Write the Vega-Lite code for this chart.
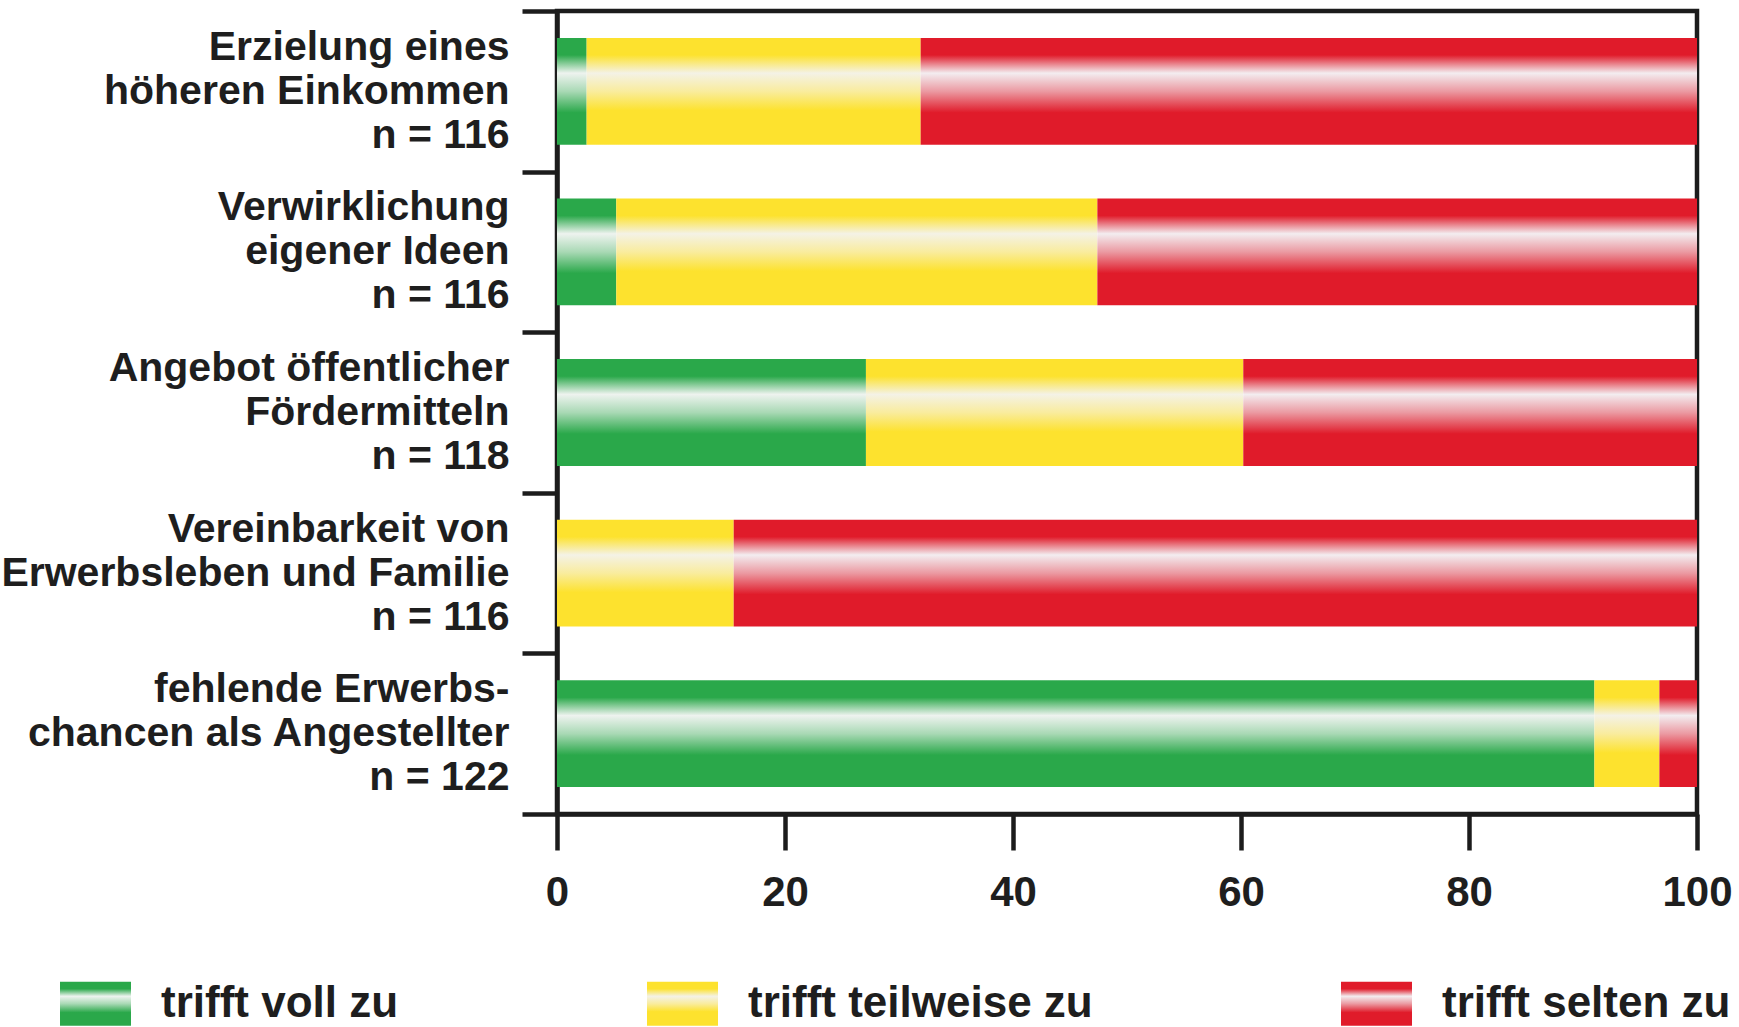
{
  "$schema": "https://vega.github.io/schema/vega-lite/v6.json",
  "autosize": {"type": "none"},
  "padding": {"left": 557, "top": 11, "right": 42, "bottom": 213},
  "width": 1140,
  "height": 803,
  "background": "white",
  "data": {
    "values": [
      {"item": "Erzielung eines|höheren Einkommen|n = 116", "resp": "trifft voll zu", "ord": 1, "pct": 2.6},
      {"item": "Erzielung eines|höheren Einkommen|n = 116", "resp": "trifft teilweise zu", "ord": 2, "pct": 29.3},
      {"item": "Erzielung eines|höheren Einkommen|n = 116", "resp": "trifft selten zu", "ord": 3, "pct": 68.1},
      {"item": "Verwirklichung|eigener Ideen|n = 116", "resp": "trifft voll zu", "ord": 1, "pct": 5.2},
      {"item": "Verwirklichung|eigener Ideen|n = 116", "resp": "trifft teilweise zu", "ord": 2, "pct": 42.2},
      {"item": "Verwirklichung|eigener Ideen|n = 116", "resp": "trifft selten zu", "ord": 3, "pct": 52.6},
      {"item": "Angebot öffentlicher|Fördermitteln|n = 118", "resp": "trifft voll zu", "ord": 1, "pct": 27.1},
      {"item": "Angebot öffentlicher|Fördermitteln|n = 118", "resp": "trifft teilweise zu", "ord": 2, "pct": 33.1},
      {"item": "Angebot öffentlicher|Fördermitteln|n = 118", "resp": "trifft selten zu", "ord": 3, "pct": 39.8},
      {"item": "Vereinbarkeit von|Erwerbsleben und Familie|n = 116", "resp": "trifft teilweise zu", "ord": 2, "pct": 15.5},
      {"item": "Vereinbarkeit von|Erwerbsleben und Familie|n = 116", "resp": "trifft selten zu", "ord": 3, "pct": 84.5},
      {"item": "fehlende Erwerbs-|chancen als Angestellter|n = 122", "resp": "trifft voll zu", "ord": 1, "pct": 91.0},
      {"item": "fehlende Erwerbs-|chancen als Angestellter|n = 122", "resp": "trifft teilweise zu", "ord": 2, "pct": 5.7},
      {"item": "fehlende Erwerbs-|chancen als Angestellter|n = 122", "resp": "trifft selten zu", "ord": 3, "pct": 3.3}
    ]
  },
  "mark": {"type": "bar", "height": {"band": 0.665}},
  "encoding": {
    "y": {
      "field": "item",
      "type": "nominal",
      "sort": null,
      "scale": {"paddingInner": 0, "paddingOuter": 0},
      "axis": {
        "title": null,
        "labelExpr": "split(datum.label, '|')",
        "labelFontSize": 41,
        "labelFontWeight": "bold",
        "labelColor": "#1e1e1e",
        "labelLineHeight": 44,
        "labelAlign": "right",
        "labelBaseline": "middle",
        "labelOffset": -44,
        "labelPadding": 13,
        "labelLimit": 0,
        "tickBand": "extent",
        "tickSize": 35,
        "tickWidth": 4.5,
        "tickColor": "#1c1c1c",
        "domainWidth": 4.5,
        "domainColor": "#1c1c1c",
        "grid": false
      }
    },
    "x": {
      "field": "pct",
      "type": "quantitative",
      "stack": "zero",
      "scale": {"domain": [0, 100], "nice": false},
      "axis": {
        "title": null,
        "values": [0, 20, 40, 60, 80, 100],
        "labelFontSize": 42,
        "labelFontWeight": "bold",
        "labelColor": "#1e1e1e",
        "labelPadding": 22,
        "labelFlush": false,
        "labelOverlap": false,
        "tickSize": 36,
        "tickWidth": 4.5,
        "tickColor": "#1c1c1c",
        "domainWidth": 4.5,
        "domainColor": "#1c1c1c",
        "grid": false
      }
    },
    "color": {
      "field": "resp",
      "type": "nominal",
      "scale": {
        "domain": ["trifft voll zu", "trifft teilweise zu", "trifft selten zu"],
        "range": [
          {"expr": "({gradient: 'linear', x1: 0, y1: 0, x2: 0, y2: 1, stops: [{offset: 0, color: '#2aa84a'}, {offset: 0.16, color: '#2aa84a'}, {offset: 0.33, color: '#eef3ef'}, {offset: 0.5, color: '#a9d9b5'}, {offset: 0.7, color: '#2aa84a'}, {offset: 1, color: '#2aa84a'}]})"},
          {"expr": "({gradient: 'linear', x1: 0, y1: 0, x2: 0, y2: 1, stops: [{offset: 0, color: '#fde22e'}, {offset: 0.16, color: '#fde22e'}, {offset: 0.33, color: '#f4f2e6'}, {offset: 0.5, color: '#f9ec9e'}, {offset: 0.68, color: '#fde22e'}, {offset: 1, color: '#fde22e'}]})"},
          {"expr": "({gradient: 'linear', x1: 0, y1: 0, x2: 0, y2: 1, stops: [{offset: 0, color: '#e01b2a'}, {offset: 0.16, color: '#e01b2a'}, {offset: 0.33, color: '#f3edf0'}, {offset: 0.5, color: '#eb9aa2'}, {offset: 0.7, color: '#e01b2a'}, {offset: 1, color: '#e01b2a'}]})"}
        ]
      },
      "legend": {
        "title": null,
        "orient": "none",
        "legendX": -497,
        "legendY": 957,
        "direction": "horizontal",
        "columnPadding": 248,
        "symbolType": "M-1,-0.62L1,-0.62L1,0.62L-1,0.62Z",
        "symbolSize": 5041,
        "symbolStrokeWidth": 0,
        "symbolOpacity": 1,
        "labelFontSize": 44,
        "labelFontWeight": "bold",
        "labelColor": "#1e1e1e",
        "labelOffset": 30,
        "labelLimit": 0,
        "padding": 0
      }
    },
    "order": {"field": "ord", "type": "quantitative"}
  },
  "config": {
    "font": "Liberation Sans",
    "view": {"stroke": "#1c1c1c", "strokeWidth": 4.5}
  }
}
